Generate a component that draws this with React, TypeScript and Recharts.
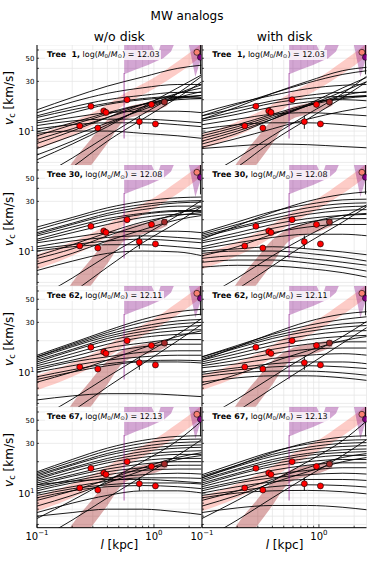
import React from 'react';
import { ComposedChart, Line, Area, Scatter, XAxis, YAxis, CartesianGrid, ErrorBar } from 'recharts';

// ---------- data ----------
const curveX = [0.1, 0.2, 0.4, 0.8, 1.6, 2.6];

const tree1NoDisk = [
  [16, 21, 27, 33, 40, 43], [15, 19, 23, 26, 28, 28], [14, 17, 20, 22, 23.5, 23.5],
  [13.5, 16, 18.5, 20.5, 21.5, 21], [12.5, 15, 18, 20, 21, 20.5], [12, 13.5, 15, 15.5, 15.5, 15],
  [11.3, 12.5, 13, 13, 12.5, 12], [10.5, 11.5, 12, 12, 11.5, 11], [9.8, 12, 15, 18, 20, 20.5],
  [9, 11.5, 14.5, 18, 21, 22], [8.3, 10.5, 13.5, 17, 20.5, 22], [7.6, 10, 13.5, 18, 23, 26],
  [6.8, 9, 12, 16, 21, 24], [5.9, 8, 11.5, 16.5, 23, 28], [5.3, 7.5, 11, 17, 26, 35],
  [3.5, 5.5, 9, 14.5, 23, 34], [2.8, 4.5, 8, 13, 21, 30], [9.5, 10, 10, 9.5, 9, 8.5],
];
const tree1Disk = [
  [13, 17, 23, 30, 38, 41], [14, 18, 23, 29, 35, 38], [15, 18.5, 22, 25.5, 27.5, 28],
  [14, 16.5, 19.5, 22, 23.5, 23.5], [13, 15.5, 18.5, 20.5, 21.5, 21.5], [12.5, 14.5, 17, 19, 20, 19.5],
  [11.5, 13, 14.5, 15, 14.5, 14], [10.5, 11.5, 12, 12, 11.5, 11], [9.5, 11.5, 14.5, 18, 21, 22],
  [9, 11, 14, 17.5, 20.5, 21.5], [8.5, 10.5, 13.5, 17.5, 22, 24], [8, 10, 13, 17.5, 24, 30],
  [7.5, 9.5, 13, 18, 26, 33], [6.8, 7.2, 7.5, 7.4, 7.1, 6.9], [3.5, 5.5, 9, 14.5, 23, 34],
  [2.8, 4.5, 8, 13, 21, 30], [7, 8.5, 10.5, 13, 15.5, 17],
];
const tree30NoDisk = [
  [17, 21, 26, 30, 32.5, 33], [16, 20, 24.5, 28, 30, 30.5], [15, 18.5, 23, 26.5, 29, 29.5],
  [14.5, 18, 22, 25, 27, 27], [14, 17, 20.5, 23, 24.5, 24.5], [13, 16, 19.5, 22.5, 24, 24],
  [12.5, 15, 18, 21, 22.5, 22.5], [12, 13.5, 15, 15.5, 15.5, 15], [11, 12.5, 13.5, 14, 13.5, 13],
  [10.5, 11.5, 12.5, 13, 12.5, 12], [10, 11, 11.5, 11.5, 11, 10.5], [9, 11.5, 15, 19, 22, 23.5],
  [8.5, 10.5, 14, 18, 23, 27], [7.5, 9.5, 12.5, 16, 20, 22], [6.5, 8, 9.5, 10, 9.8, 9],
  [3.5, 5.5, 9, 14, 22, 31], [2.5, 4, 7, 12, 19, 27],
];
const tree30Disk = [
  [13, 17.5, 23.5, 30, 35, 37], [15, 19, 24, 28, 31, 31.5], [14.5, 18, 22, 26, 28.5, 29],
  [14, 17, 20.5, 24, 26.5, 27], [13.5, 16.5, 19.5, 22.5, 24.5, 25], [12.5, 15, 18, 20.5, 22, 22.5],
  [12, 14, 16.5, 19, 20.5, 20.5], [11, 13, 15, 17, 18, 18], [10.5, 12, 13.5, 14.5, 14.5, 14],
  [10, 10.5, 11, 10.5, 9.8, 9.2], [9.5, 10, 10, 9.5, 8.7, 8], [8.5, 9, 9, 8.5, 7.8, 7.3],
  [7.8, 8.2, 8.2, 7.7, 7, 6.4], [7, 7.3, 7.2, 6.8, 6.2, 5.6], [9, 11, 14.5, 18.5, 22, 23],
  [3.5, 5.5, 9, 14, 21, 28], [2.7, 4.3, 7.2, 12, 19, 27],
];
const tree62NoDisk = [
  [14.5, 19, 25, 32, 38, 40], [14, 18.5, 24, 30, 34, 36], [14, 18, 23, 27.5, 31, 32],
  [13.5, 17.5, 22, 26, 29, 30], [13, 16.5, 21, 24.5, 27, 28], [12.5, 16, 20, 23, 25, 25.5],
  [12, 15, 18.5, 21.5, 23, 23.5], [11.5, 14, 17, 19, 20.5, 20.5], [11, 13, 15.5, 17.5, 18.5, 18.5],
  [10.5, 12.5, 14, 15.5, 16, 16], [10, 11.5, 13, 14, 14.5, 14.5], [9, 10.5, 12, 12.8, 13, 12.8],
  [8.5, 10, 11.5, 12.5, 12.5, 12.2], [8, 10, 13, 17, 22, 25], [5.4, 5.9, 6.2, 6.2, 6, 5.8],
  [3.5, 5.5, 9, 14.5, 23, 33], [2.6, 4.2, 7.2, 12, 20, 29],
];
const tree62Disk = [
  [13, 17.5, 23.5, 30.5, 36, 38], [14, 18, 23, 28, 32, 34], [14, 17.5, 22, 26, 29, 30],
  [13.5, 17, 21, 24.5, 27, 28], [13, 16, 19.5, 22.5, 24.5, 25], [12.5, 15, 18, 20.5, 22, 22.5],
  [12, 14, 16.5, 18.5, 19.5, 19.5], [11.5, 13, 15, 16.5, 17, 17], [11, 12, 13.5, 14.5, 15, 14.5],
  [10, 11, 12, 12.5, 12.5, 12], [9.5, 10.5, 11.2, 11.5, 11.2, 10.8], [9, 9.8, 10.2, 10.2, 9.8, 9.3],
  [8, 8.8, 9.2, 9.2, 8.8, 8.3], [7.5, 9.5, 12.5, 16, 20, 22], [3.5, 5.5, 9, 14.5, 22, 31],
  [2.6, 4.2, 7, 11.5, 19, 27],
];
const tree67NoDisk = [
  [16, 21, 27, 32, 35, 35.5], [15.5, 20, 25.5, 30, 32.5, 33], [15, 19, 24, 28, 30.5, 31],
  [14.5, 18.5, 23, 26.5, 28.5, 29], [14, 17.5, 21.5, 25, 27, 27.5], [13.5, 17, 20.5, 23.5, 25, 25.5],
  [13, 16, 19.5, 22, 23.5, 23.5], [12.5, 15, 18, 20.5, 21.5, 21.5], [12, 14.5, 17, 19, 20, 20],
  [11.5, 13.5, 16, 17.5, 18.5, 18.5], [11, 13, 15, 16.5, 17, 17], [10.5, 12.5, 14, 15, 15.5, 15.2],
  [10, 11.5, 13, 14, 14, 13.8], [9.5, 11, 12, 12.5, 12.5, 12.2], [9, 10.5, 11.5, 11.8, 11.5, 11],
  [8.5, 10.5, 13.5, 17.5, 22, 24.5], [7.5, 9.5, 12.5, 16.5, 21, 23], [6.5, 8, 9.5, 10.5, 10.5, 10],
  [6, 6.5, 7, 7, 6.6, 6.2], [5.7, 8.5, 13, 20, 32, 50], [3.5, 5.5, 9, 14.5, 23, 33],
  [12, 13, 13.5, 13.5, 13, 12.5],
];
const tree67Disk = [
  [14, 18.5, 24.5, 30.5, 34.5, 35.5], [15, 19.5, 25, 29.5, 32, 32.5], [14.5, 18.5, 23.5, 27.5, 30, 30.5],
  [14, 18, 22.5, 26, 28, 28.5], [13.5, 17, 21, 24, 26, 26.5], [13, 16.5, 20, 23, 24.5, 25],
  [12.5, 15.5, 19, 21.5, 23, 23], [12, 15, 18, 20, 21, 21], [11.5, 14, 16.5, 18.5, 19.5, 19.5],
  [11, 13, 15, 16.5, 17.5, 17.5], [10.5, 12.5, 14, 15, 15.5, 15.2], [10, 11.5, 12.8, 13.5, 13.5, 13.2],
  [9.5, 10.5, 11.5, 12, 11.8, 11.4], [9, 10, 10.5, 10.6, 10.3, 9.8], [8.5, 10.5, 13.5, 17.5, 22, 24],
  [7.5, 9.5, 12.5, 16, 20, 22], [6.5, 7.2, 7.6, 7.6, 7.3, 6.9], [5.7, 8.5, 13, 20, 32, 50],
  [3.5, 5.5, 9, 14.5, 23, 33],
];

const obsX = [0.232, 0.289, 0.331, 0.372, 0.389, 0.589, 0.75, 0.952, 1.03];
const obsV = [11.2, 17.3, 10.7, 15.6, 15.1, 20.0, 12.3, 18.0, 11.7];
const obsErr = [0.5, 0.6, 0.5, 0.6, 0.6, 0.8, 1.8, 0.8, 0.7];
const brownX = [1.23];
const brownV = [19.0];
const salmonX = [2.33];
const salmonV = [57];
const violetX = [2.5];
const violetV = [51];
const violetErr = [[16, 30]];

const pinkX = [0.1, 0.2, 0.35, 0.59, 1.0, 1.57, 2.6];
const pinkLow = [6.7, 9.0, 12.5, 18.5, 25.5, 35, 53];
const pinkHigh = [9.3, 12.3, 16.5, 23.7, 32.5, 46, 70];

const darkX = [0.17, 0.2, 0.29, 0.39, 0.556, 0.8, 1.0, 1.3];
const darkLow = [2.4, 2.9, 4.7, 7.3, 12.5, 14.5, 15.5, 17.5];
const darkHigh = [3.8, 5.0, 8.4, 12.5, 16.5, 18.5, 19.3, 20.5];

const purpleX = [0.556, 0.7, 0.89, 1.06, 1.2, 1.4, 1.58, 1.93, 2.26, 2.6];
const purpleLow = [35, 39, 43, 47, 50, 58, 80, 80, 33, 55];
const purpleHigh = [80, 80, 80, 52, 80, 80, 80, 80, 80, 80];
const purpleLineX = [0.556, 0.556];
const purpleLineV = [8.5, 36];

const xTicks = [0.1, 0.2, 0.3, 0.4, 0.5, 0.6, 0.7, 0.8, 0.9, 1, 2];
const yTicks = [5, 6, 7, 8, 9, 10, 20, 30, 40, 50, 60];
const treeIds = ['\u00a01', '30', '62', '67'];
const treeMass = ['12.03', '12.08', '12.11', '12.13'];
const columnTitles = ['w/o disk', 'with disk'];

// ---------- layout ----------
const FONT = 'DejaVu Sans, sans-serif';
const COLX = [37, 202.3];
const PW = 164.5;
const ROWY = [44.5, 165.2, 285.9, 406.6];
const PH = 120.7;
const XDOM = [0.1, 2.55];
const YDOM = [4.65, 67];

const panelCurves = [
  [tree1NoDisk, tree1Disk],
  [tree30NoDisk, tree30Disk],
  [tree62NoDisk, tree62Disk],
  [tree67NoDisk, tree67Disk],
];

const near = (a: number, b: number) => Math.abs(a - b) < 1e-9;
const isMajorX = (v: number) => near(v, 0.1) || near(v, 1);
const isMajorY = (v: number) => near(v, 10);

const pinkData = pinkX.map((x, i) => ({ x, r: [pinkLow[i], pinkHigh[i]] }));
const darkData = darkX.map((x, i) => ({ x, r: [darkLow[i], darkHigh[i]] }));
const purpleData = purpleX.map((x, i) => ({ x, r: [purpleLow[i], purpleHigh[i]] }));
const purpleLineData = purpleLineX.map((x, i) => ({ x, y: purpleLineV[i] }));
const obsData = obsX.map((x, i) => ({ x, y: obsV[i], e: obsErr[i] }));
const brownData = brownX.map((x, i) => ({ x, y: brownV[i] }));
const salmonData = salmonX.map((x, i) => ({ x, y: salmonV[i] }));
const violetData = violetX.map((x, i) => ({ x, y: violetV[i], e: violetErr[i] }));

const dotShape = (fill: string) => (p: any) => (
  <circle cx={p.cx} cy={p.cy} r={3} fill={fill} stroke="#000" strokeWidth={0.6} />
);

function BottomTick(p: any) {
  const v = p.payload.value;
  const len = isMajorX(v) ? 3.5 : 2;
  return (
    <g>
      <line x1={p.x} x2={p.x} y1={p.y} y2={p.y - len} stroke="#000" strokeWidth={0.7} />
      {p.showLabel && isMajorX(v) && (
        <text x={p.x} y={p.y + 12} textAnchor="middle" fontSize={10} fontFamily={FONT} fill="#000">
          10<tspan dy={-4.5} fontSize={7}>{near(v, 1) ? '0' : '\u22121'}</tspan>
        </text>
      )}
    </g>
  );
}
function TopTick(p: any) {
  const v = p.payload.value;
  const len = isMajorX(v) ? 3.5 : 2;
  return <line x1={p.x} x2={p.x} y1={p.y} y2={p.y + len} stroke="#000" strokeWidth={0.7} />;
}
function LeftTick(p: any) {
  const v = p.payload.value;
  const len = isMajorY(v) ? 3.5 : 2;
  let label: any = null;
  if (p.showLabel) {
    if (near(v, 10)) {
      label = (
        <text x={p.x - 2.5} y={p.y + 3.5} textAnchor="end" fontSize={9.5} fontFamily={FONT} fill="#000">
          10<tspan dy={-4} fontSize={6.5}>1</tspan>
        </text>
      );
    } else if (near(v, 30) || near(v, 50)) {
      label = (
        <text x={p.x - 2.5} y={p.y + 2.5} textAnchor="end" fontSize={7} fontFamily={FONT} fill="#000">
          {v}
        </text>
      );
    }
  }
  return (
    <g>
      <line x1={p.x} x2={p.x + len} y1={p.y} y2={p.y} stroke="#000" strokeWidth={0.7} />
      {label}
    </g>
  );
}
function RightTick(p: any) {
  const v = p.payload.value;
  const len = isMajorY(v) ? 3.5 : 2;
  return <line x1={p.x} x2={p.x - len} y1={p.y} y2={p.y} stroke="#000" strokeWidth={0.7} />;
}

function Panel({ row, col }: { row: number; col: number }) {
  const yW = 30;
  const bottom = row === 3;
  const xH = bottom ? 30 : 0;
  const W = yW + PW;
  const H = PH + xH;
  const curves = panelCurves[row][col];
  const ax = { xAxisId: 'b', yAxisId: 'l' };
  return (
    <div style={{ position: 'absolute', left: COLX[col] - yW, top: ROWY[row], width: W, height: H }}>
      <ComposedChart width={W} height={H} margin={{ top: 0, right: 0, bottom: 0, left: 0 }}>
        <CartesianGrid {...ax} stroke="#e4e4e4" strokeWidth={0.7} />
        <XAxis xAxisId="b" dataKey="x" type="number" scale="log" domain={XDOM} allowDataOverflow
          ticks={xTicks} interval={0} orientation="bottom" height={xH} tickSize={0} tickMargin={0}
          tickLine={false} axisLine={{ stroke: '#000', strokeWidth: 1 }}
          tick={(p: any) => <BottomTick {...p} showLabel={bottom} />} />
        <XAxis xAxisId="t" dataKey="x" type="number" scale="log" domain={XDOM} allowDataOverflow
          ticks={xTicks} interval={0} orientation="top" height={0} tickSize={0} tickMargin={0}
          tickLine={false} axisLine={{ stroke: '#000', strokeWidth: 1 }}
          tick={(p: any) => <TopTick {...p} />} />
        <YAxis yAxisId="l" dataKey="y" type="number" scale="log" domain={YDOM} allowDataOverflow
          ticks={yTicks} interval={0} orientation="left" width={yW} tickSize={0} tickMargin={0}
          tickLine={false} axisLine={{ stroke: '#000', strokeWidth: 1 }}
          tick={(p: any) => <LeftTick {...p} showLabel={col === 0} />} />
        <YAxis yAxisId="r" dataKey="y" type="number" scale="log" domain={YDOM} allowDataOverflow
          ticks={yTicks} interval={0} orientation="right" width={0} tickSize={0} tickMargin={0}
          tickLine={false} axisLine={{ stroke: '#000', strokeWidth: 1 }}
          tick={(p: any) => <RightTick {...p} />} />
        <Area {...ax} data={pinkData} dataKey="r" type="monotone" fill="#fa8072" fillOpacity={0.4}
          stroke="none" isAnimationActive={false} />
        <Area {...ax} data={darkData} dataKey="r" type="monotone" fill="#a52a2a" fillOpacity={0.4}
          stroke="none" isAnimationActive={false} />
        {curves.map((vals, i) => (
          <Line key={i} {...ax} data={curveX.map((x, j) => ({ x, y: vals[j] }))} dataKey="y" type="monotone"
            stroke="#000" strokeWidth={0.9} dot={false} isAnimationActive={false} />
        ))}
        <Area {...ax} data={purpleData} dataKey="r" type="linear" fill="#800080" fillOpacity={0.35}
          stroke="none" isAnimationActive={false} />
        <Line {...ax} data={purpleLineData} dataKey="y" type="linear" stroke="#800080" strokeOpacity={0.45}
          strokeWidth={1.4} dot={false} isAnimationActive={false} />
        <Scatter {...ax} data={obsData} dataKey="y" shape={dotShape('#ff0000')} isAnimationActive={false}>
          <ErrorBar dataKey="e" direction="y" width={0} stroke="#000" strokeWidth={0.9} />
        </Scatter>
        <Scatter {...ax} data={brownData} dataKey="y" shape={dotShape('#a52a2a')} isAnimationActive={false} />
        <Scatter {...ax} data={salmonData} dataKey="y" shape={dotShape('#fa8072')} isAnimationActive={false} />
        <Scatter {...ax} data={violetData} dataKey="y" shape={dotShape('#800080')} isAnimationActive={false}>
          <ErrorBar dataKey="e" direction="y" width={0} stroke="#000" strokeWidth={0.9} />
        </Scatter>
      </ComposedChart>
    </div>
  );
}

const sub = { fontSize: '0.7em', position: 'relative' as const, top: '0.28em' };

export default function App() {
  const rows = [0, 1, 2, 3];
  return (
    <div style={{ position: 'absolute', left: 0, top: 0, width: 374, height: 561, background: '#fff', fontFamily: FONT, color: '#000' }}>
      <div style={{ position: 'absolute', left: 0, width: 374, top: 8.5, textAlign: 'center', fontSize: 12, lineHeight: '14px' }}>MW analogs</div>
      {columnTitles.map((t, c) => (
        <div key={t} style={{ position: 'absolute', left: COLX[c], width: PW, top: 29.5, textAlign: 'center', fontSize: 12.5, lineHeight: '14px' }}>{t}</div>
      ))}
      {rows.map((r) => [0, 1].map((c) => <Panel key={r + '-' + c} row={r} col={c} />))}
      {rows.map((r) => [0, 1].map((c) => (
        <div key={'t' + r + c} style={{ position: 'absolute', left: COLX[c] + 8, top: ROWY[r] + 5, fontSize: 7.9, lineHeight: '10px', whiteSpace: 'pre', background: 'rgba(255,255,255,0.8)', padding: '0 2px' }}>
          <b>Tree {treeIds[r]},</b> log(<i>M</i><span style={sub}>0</span>/<i>M</i><span style={sub}>⊙</span>) = {treeMass[r]}
        </div>
      )))}
      {rows.map((r) => (
        <div key={'y' + r} style={{ position: 'absolute', left: 9, top: ROWY[r] + PH / 2 - 7, transform: 'translate(-50%,-50%) rotate(-90deg)', whiteSpace: 'nowrap', fontSize: 12, lineHeight: '14px' }}>
          <i>v</i><span style={sub}>c</span> [km/s]
        </div>
      ))}
      {[0, 1].map((c) => (
        <div key={'xl' + c} style={{ position: 'absolute', left: COLX[c], width: PW, top: 538, textAlign: 'center', fontSize: 12, lineHeight: '14px' }}>
          <i>l</i> [kpc]
        </div>
      ))}
    </div>
  );
}
